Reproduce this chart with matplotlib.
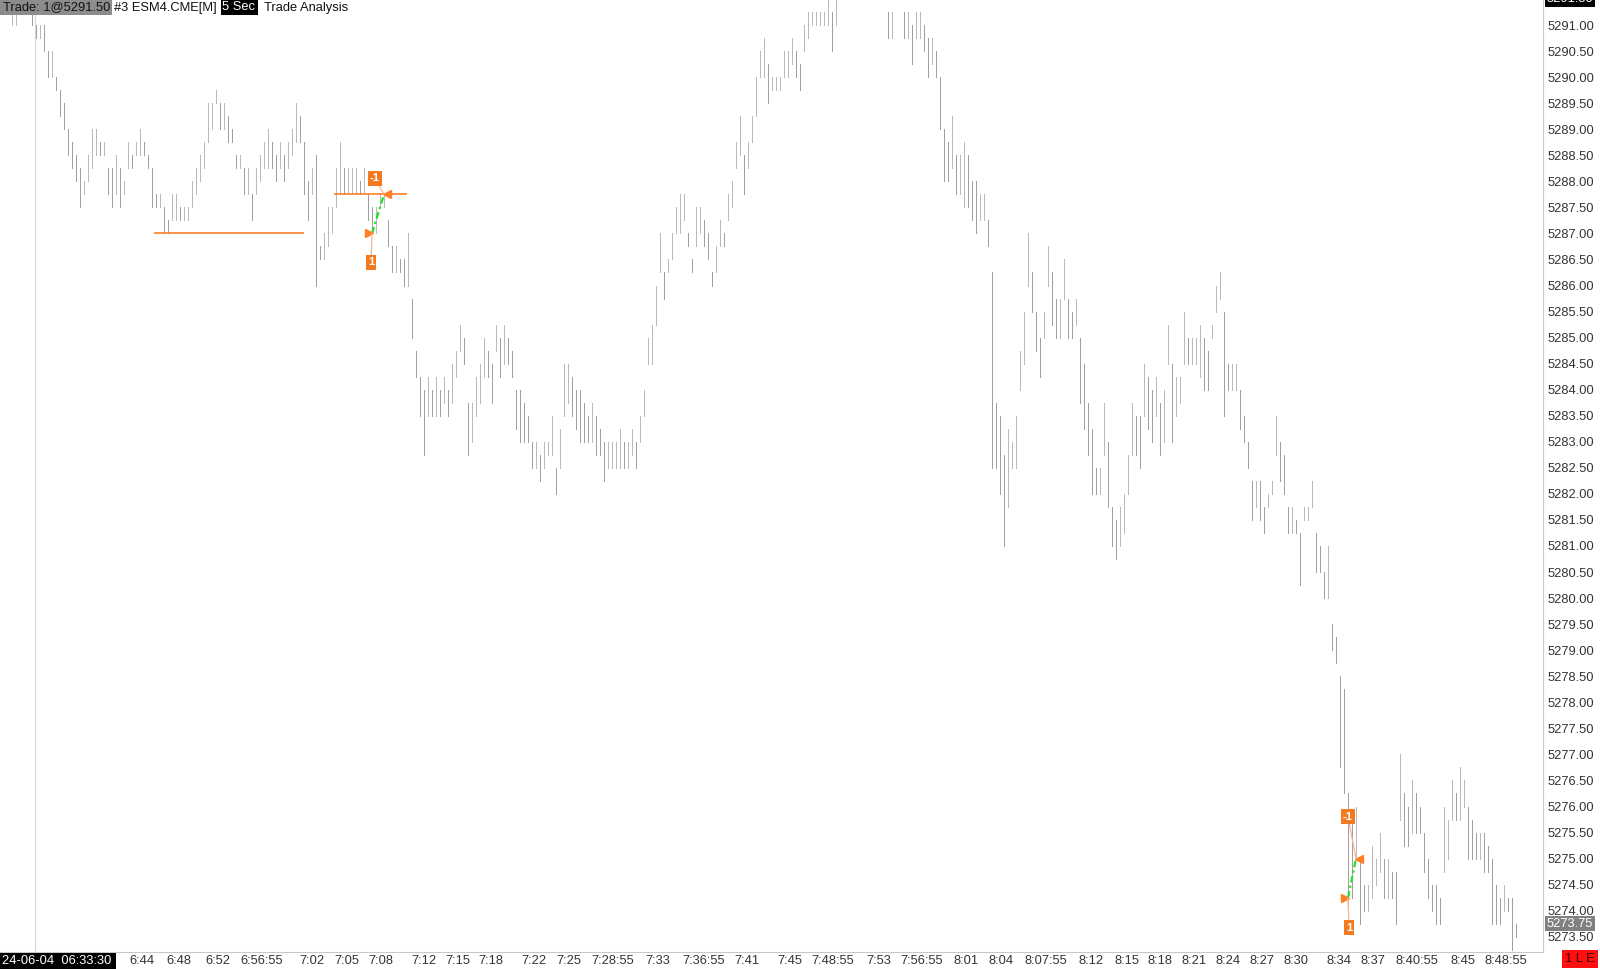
import numpy as np
import matplotlib
matplotlib.use("Agg")
import matplotlib.pyplot as plt
from matplotlib.patches import Rectangle
import matplotlib.transforms as mtransforms

plt.rcParams['font.family'] = ['Liberation Sans', 'DejaVu Sans']

# ESM4 5 sec bars, 2024-06-04 06:33:30 -> 08:49, one value per drawn bar
bar_hi = [
    5291.25, 5291.25, 5291.25, 5291.25, 5291.25, 5291.25, 5291.0, 5291.0, 5291.0, 5290.5,
    5290.5, 5290.0, 5289.75, 5289.5, 5289.0, 5288.75, 5288.5, 5288.25, 5288.0, 5288.5,
    5289.0, 5289.0, 5288.75, 5288.75, 5288.25, 5288.25, 5288.5, 5288.25, 5288.0, 5288.75,
    5288.5, 5288.75, 5289.0, 5288.75, 5288.5, 5288.25, 5287.75, 5287.75, 5287.5, 5287.25,
    5287.75, 5287.75, 5287.5, 5287.5, 5287.5, 5288.0, 5288.25, 5288.5, 5288.75, 5289.5,
    5289.5, 5289.75, 5289.5, 5289.5, 5289.25, 5289.0, 5288.5, 5288.5, 5288.25, 5288.25,
    5287.75, 5288.25, 5288.5, 5288.75, 5289.0, 5288.75, 5288.5, 5288.75, 5288.5, 5288.75,
    5289.0, 5289.5, 5289.25, 5288.75, 5288.0, 5288.25, 5288.5, 5286.75, 5287.0, 5287.5,
    5287.5, 5288.25, 5288.75, 5288.25, 5288.25, 5288.25, 5288.25, 5288.0, 5288.25, 5287.75,
    5287.5, 5287.5, 5287.75, 5287.75, 5287.25, 5286.75, 5286.75, 5286.5, 5286.5, 5287.0,
    5285.75, 5284.75, 5284.25, 5284.0, 5284.25, 5284.0, 5284.25, 5284.0, 5284.25, 5284.0,
    5284.5, 5284.75, 5285.25, 5285.0, 5283.75, 5283.75, 5284.25, 5284.5, 5285.0, 5284.75,
    5284.5, 5285.25, 5285.0, 5285.25, 5285.0, 5284.75, 5284.0, 5284.0, 5283.75, 5283.5,
    5283.0, 5283.0, 5282.75, 5283.0, 5283.0, 5283.5, 5282.5, 5283.25, 5284.5, 5284.5,
    5284.25, 5284.0, 5284.0, 5283.75, 5283.5, 5283.75, 5283.5, 5283.25, 5283.0, 5283.0,
    5283.0, 5283.0, 5283.25, 5283.0, 5283.0, 5283.25, 5283.0, 5283.5, 5284.0, 5285.0,
    5285.25, 5286.0, 5287.0, 5286.25, 5286.5, 5287.0, 5287.5, 5287.75, 5287.75, 5287.0,
    5286.5, 5287.5, 5287.5, 5287.25, 5287.0, 5286.25, 5286.75, 5287.25, 5287.0, 5287.75,
    5288.0, 5288.75, 5289.25, 5288.5, 5288.75, 5289.25, 5290.0, 5290.5, 5290.75, 5290.25,
    5290.0, 5290.0, 5290.0, 5290.5, 5290.5, 5290.75, 5290.5, 5290.25, 5291.0, 5291.25,
    5291.25, 5291.25, 5291.25, 5291.25, 5291.5, 5291.25, 5291.5, 5292.0, 5292.25, 5292.5,
    5292.25, 5292.5, 5292.75, 5292.5, 5292.25, 5292.5, 5292.25, 5292.0, 5292.0, 5291.25,
    5291.25, 5292.0, 5291.75, 5291.25, 5291.25, 5291.0, 5291.25, 5291.25, 5291.0, 5290.75,
    5290.75, 5290.5, 5290.0, 5289.0, 5288.75, 5289.25, 5288.5, 5288.5, 5288.75, 5288.5,
    5288.0, 5288.0, 5287.75, 5287.75, 5287.25, 5286.25, 5283.75, 5283.5, 5282.75, 5283.25,
    5283.0, 5283.5, 5284.75, 5285.5, 5287.0, 5286.25, 5285.5, 5285.0, 5285.5, 5286.75,
    5286.25, 5285.75, 5285.75, 5286.5, 5285.75, 5285.5, 5285.75, 5285.0, 5284.5, 5283.75,
    5283.25, 5282.5, 5282.5, 5283.75, 5283.0, 5281.75, 5281.5, 5281.75, 5282.0, 5282.75,
    5283.75, 5283.5, 5283.5, 5284.5, 5284.25, 5284.0, 5284.25, 5283.75, 5284.0, 5285.25,
    5284.5, 5284.25, 5284.25, 5285.5, 5285.0, 5285.0, 5285.0, 5285.25, 5285.0, 5284.75,
    5285.25, 5286.0, 5286.25, 5285.5, 5284.5, 5284.5, 5284.5, 5284.0, 5283.5, 5283.0,
    5282.25, 5282.25, 5282.25, 5281.75, 5282.0, 5282.25, 5283.5, 5283.0, 5282.75, 5281.75,
    5281.75, 5281.5, 5281.25, 5281.75, 5281.75, 5282.25, 5281.25, 5281.0, 5280.5, 5281.0,
    5279.5, 5279.25, 5278.5, 5278.25, 5276.25, 5275.75, 5276.0, 5275.0, 5274.5, 5274.5,
    5275.25, 5275.0, 5275.5, 5275.0, 5275.0, 5274.75, 5274.75, 5277.0, 5276.25, 5276.0,
    5276.5, 5276.25, 5276.0, 5275.5, 5275.0, 5274.5, 5274.5, 5274.25, 5276.0, 5275.75,
    5276.5, 5276.25, 5276.75, 5276.5, 5276.0, 5275.75, 5275.5, 5275.5, 5275.5, 5275.25,
    5275.0, 5274.5, 5274.25, 5274.5, 5274.25, 5274.25, 5273.75,
]
bar_lo = [
    5291.0, 5291.0, 5291.25, 5291.25, 5291.25, 5291.0, 5290.75, 5290.75, 5290.5, 5290.0,
    5290.0, 5289.75, 5289.25, 5289.0, 5288.5, 5288.25, 5288.0, 5287.5, 5287.75, 5288.0,
    5288.25, 5288.5, 5288.5, 5288.5, 5287.75, 5287.5, 5287.75, 5287.5, 5287.75, 5288.25,
    5288.25, 5288.5, 5288.5, 5288.5, 5288.25, 5287.5, 5287.5, 5287.5, 5287.0, 5287.0,
    5287.25, 5287.25, 5287.25, 5287.25, 5287.25, 5287.5, 5287.75, 5288.0, 5288.25, 5288.75,
    5289.0, 5289.5, 5289.0, 5289.0, 5288.75, 5288.75, 5288.25, 5288.25, 5287.75, 5287.75,
    5287.25, 5287.75, 5288.0, 5288.25, 5288.25, 5288.25, 5288.0, 5288.25, 5288.0, 5288.25,
    5288.5, 5288.75, 5288.75, 5287.75, 5287.25, 5287.75, 5286.0, 5286.5, 5286.5, 5286.75,
    5287.0, 5287.5, 5287.75, 5287.75, 5287.75, 5287.75, 5287.75, 5287.75, 5287.75, 5287.25,
    5287.0, 5287.0, 5287.5, 5287.5, 5286.75, 5286.25, 5286.25, 5286.25, 5286.0, 5286.0,
    5285.0, 5284.25, 5283.5, 5282.75, 5283.5, 5283.5, 5283.5, 5283.5, 5283.75, 5283.5,
    5283.75, 5284.25, 5284.75, 5284.5, 5282.75, 5283.0, 5283.5, 5283.75, 5284.25, 5284.25,
    5283.75, 5284.75, 5284.25, 5284.5, 5284.5, 5284.25, 5283.25, 5283.0, 5283.0, 5283.0,
    5282.5, 5282.5, 5282.25, 5282.5, 5282.75, 5282.75, 5282.0, 5282.5, 5283.5, 5283.75,
    5283.5, 5283.25, 5283.0, 5283.0, 5283.0, 5283.0, 5282.75, 5282.75, 5282.25, 5282.5,
    5282.5, 5282.5, 5282.5, 5282.5, 5282.5, 5282.75, 5282.5, 5283.0, 5283.5, 5284.5,
    5284.5, 5285.25, 5286.25, 5285.75, 5286.25, 5286.5, 5287.0, 5287.0, 5287.25, 5286.75,
    5286.25, 5286.75, 5287.0, 5286.75, 5286.5, 5286.0, 5286.25, 5286.75, 5286.75, 5287.25,
    5287.5, 5288.25, 5288.5, 5287.75, 5288.25, 5288.75, 5289.25, 5290.0, 5290.0, 5289.5,
    5289.75, 5289.75, 5289.75, 5290.0, 5290.0, 5290.25, 5290.0, 5289.75, 5290.5, 5290.75,
    5291.0, 5291.0, 5291.0, 5291.0, 5291.0, 5290.5, 5291.0, 5291.75, 5291.75, 5292.0,
    5291.75, 5292.0, 5292.25, 5292.0, 5291.75, 5292.0, 5291.75, 5291.75, 5291.5, 5290.75,
    5290.75, 5291.5, 5291.5, 5290.75, 5290.75, 5290.25, 5290.75, 5290.75, 5290.5, 5290.0,
    5290.25, 5290.0, 5289.0, 5288.0, 5288.0, 5288.25, 5287.75, 5287.75, 5287.5, 5287.5,
    5287.25, 5287.0, 5287.25, 5287.25, 5286.75, 5282.5, 5282.5, 5282.0, 5281.0, 5281.75,
    5282.5, 5282.5, 5284.0, 5284.5, 5286.0, 5285.5, 5284.75, 5284.25, 5285.0, 5286.0,
    5285.25, 5285.0, 5285.0, 5285.75, 5285.0, 5285.0, 5285.25, 5283.75, 5283.25, 5282.75,
    5282.0, 5282.0, 5282.0, 5282.75, 5281.75, 5281.0, 5280.75, 5281.0, 5281.25, 5282.0,
    5282.75, 5282.75, 5282.5, 5283.5, 5283.25, 5283.0, 5283.5, 5282.75, 5283.0, 5284.5,
    5283.0, 5283.5, 5283.75, 5284.5, 5284.5, 5284.5, 5284.5, 5284.25, 5284.0, 5284.0,
    5285.0, 5285.5, 5285.75, 5283.5, 5284.0, 5284.0, 5284.0, 5283.25, 5283.0, 5282.5,
    5281.5, 5281.75, 5281.5, 5281.25, 5281.75, 5282.0, 5282.75, 5282.25, 5282.0, 5281.25,
    5281.25, 5281.25, 5280.25, 5281.5, 5281.5, 5281.75, 5280.5, 5280.5, 5280.0, 5280.0,
    5279.0, 5278.75, 5276.75, 5276.25, 5274.0, 5274.25, 5275.0, 5273.75, 5274.0, 5274.0,
    5274.25, 5274.5, 5274.75, 5274.25, 5274.25, 5274.25, 5273.75, 5275.75, 5275.25, 5275.25,
    5275.5, 5275.5, 5275.5, 5274.75, 5274.25, 5274.0, 5273.75, 5273.75, 5274.75, 5275.0,
    5275.75, 5275.75, 5275.75, 5276.0, 5275.0, 5275.0, 5275.0, 5275.0, 5274.75, 5274.75,
    5273.75, 5273.75, 5273.75, 5274.0, 5274.0, 5273.25, 5273.5,
]

# time scale labels and the bar each one belongs to
time_labels = ['6:44', '6:48', '6:52', '6:56:55', '7:02', '7:05', '7:08', '7:12', '7:15',
               '7:18', '7:22', '7:25', '7:28:55', '7:33', '7:36:55', '7:41', '7:45',
               '7:48:55', '7:53', '7:56:55', '8:01', '8:04', '8:07:55', '8:12', '8:15',
               '8:18', '8:21', '8:24', '8:27', '8:30', '8:34', '8:37', '8:40:55', '8:45',
               '8:48:55']
time_bars = [32.5, 41.75, 51.5, 62.5, 75, 83.75, 92.25, 103, 111.5,
             119.75, 130.5, 139.25, 150.25, 161.5, 173, 183.75, 194.5,
             205.25, 216.75, 227.5, 238.5, 247.25, 258.5, 269.75, 278.75,
             287, 295.5, 304, 312.5, 321, 331.75, 340.25, 351.25, 362.75,
             373.5]

# trades (long 1 contract, then sell 1)
entry_bar = [90, 334]
entry_px = [5287.0, 5274.25]
exit_bar = [93, 336]
exit_px = [5287.75, 5275.0]

# horizontal orange levels: price, first bar, last bar
level_px = [5287.0, 5287.75]
level_from = [35.5, 80.5]
level_to = [73.0, 98.75]

session_bar = 5.75
last_px = 5273.75

W, H = 1600, 969
ORANGE = '#f47a20'
TXT = '#333333'
FS = 9.3

fig = plt.figure(figsize=(W / 100, H / 100), dpi=100)
fig.patch.set_facecolor('white')
ax = fig.add_axes([0, 17 / H, 1543 / W, 952 / H])
ax.set_facecolor('white')

hi = np.array(bar_hi)
lo = np.array(bar_lo)
k = np.arange(len(hi))
mid = (hi + lo) / 2
up = np.r_[True, mid[1:] >= mid[:-1]]
cols = np.where(up, '#bababa', '#a0a0a0')

ax.axvline(session_bar, color='#d6d6d6', lw=0.8, zorder=1)
ax.vlines(k, lo, hi, colors=cols, lw=0.72, antialiased=False, zorder=2)

ax.hlines(level_px, level_from, level_to, colors='#ff7f27', lw=1.2, zorder=3)

left_tr = mtransforms.offset_copy(ax.transData, fig=fig, x=-3, y=0, units='dots')
right_tr = mtransforms.offset_copy(ax.transData, fig=fig, x=3, y=0, units='dots')
ax.plot(entry_bar, entry_px, ls='none', marker='>', ms=5.5, color='#ff7f27',
        mec='#ff7f27', transform=left_tr, zorder=5)
ax.plot(exit_bar, exit_px, ls='none', marker='<', ms=5.5, color='#ff7f27',
        mec='#ff7f27', transform=right_tr, zorder=5)

lbl_up = [(-9, 16), (-8, 42)]
lbl_dn = [(-1, -29), (1, -30)]
for i in range(len(entry_bar)):
    ax.plot([entry_bar[i], exit_bar[i]], [entry_px[i], exit_px[i]], color='#22e022',
            lw=1.6, dashes=(3, 1.5, 1, 1.5), zorder=4)
    ax.annotate('-1', xy=(exit_bar[i], exit_px[i]), xytext=lbl_up[i],
                textcoords='offset pixels', ha='center', va='center', color='white',
                fontsize=8, fontweight='bold', zorder=6,
                bbox=dict(boxstyle='square,pad=0.2', fc=ORANGE, ec='none'),
                arrowprops=dict(arrowstyle='-', color='#f9b48a', lw=0.9,
                                shrinkA=0, shrinkB=0))
    ax.annotate('1', xy=(entry_bar[i], entry_px[i]), xytext=lbl_dn[i],
                textcoords='offset pixels', ha='center', va='center', color='white',
                fontsize=8, fontweight='bold', zorder=6,
                bbox=dict(boxstyle='square,pad=0.2', fc=ORANGE, ec='none'),
                arrowprops=dict(arrowstyle='-', color='#f9b48a', lw=0.9,
                                shrinkA=0, shrinkB=0))

ax.set_xlim(-3, 382.75)
ax.set_ylim(5291 - 927 / 52.1, 5291 + 25 / 52.1)

price_ticks = np.arange(5273.5, 5291.01, 0.5)
ax.yaxis.tick_right()
ax.set_yticks(price_ticks)
ax.set_yticklabels(['%.2f' % p for p in price_ticks])
ax.set_xticks(time_bars)
ax.set_xticklabels(time_labels)
ax.tick_params(axis='y', length=0, pad=3, labelsize=FS, labelcolor=TXT)
ax.tick_params(axis='x', length=0, pad=2.5, labelsize=FS, labelcolor=TXT)
for s in ['left', 'top']:
    ax.spines[s].set_visible(False)
for s in ['right', 'bottom']:
    ax.spines[s].set_color('#c8c8c8')
    ax.spines[s].set_linewidth(0.8)

# current / last price boxes on the price scale (top one is cut by the edge, as in the source)
blend = mtransforms.blended_transform_factory(ax.transAxes, ax.transData)
lab_tr = mtransforms.offset_copy(blend, fig=fig, x=4, y=0, units='dots')
ax.text(1.0, 5291.5, '5291.50', transform=lab_tr, ha='left', va='center', color='white',
        fontsize=FS, clip_on=False, bbox=dict(fc='black', ec='none', pad=1.2))
ax.text(1.0, last_px, '%.2f' % last_px, transform=lab_tr, ha='left', va='center',
        color='white', fontsize=FS, clip_on=False,
        bbox=dict(fc='#808080', ec='none', pad=1.2))


def px_box(x0, y0, x1, y1, color):
    fig.add_artist(Rectangle((x0 / W, 1 - y1 / H), (x1 - x0) / W, (y1 - y0) / H,
                             transform=fig.transFigure, fc=color, ec='none', zorder=5))


def px_text(x, y, s, **kw):
    fig.text(x / W, 1 - y / H, s, va='center', fontsize=FS, zorder=6, **kw)


# header row
px_box(0, 0, 112, 15, '#8c8c8c')
px_text(3, 7.5, 'Trade: 1@5291.50', color='#111111')
px_text(114, 7.5, '#3 ESM4.CME[M]', color='#111111')
px_box(221, 0, 258, 15, 'black')
px_text(222, 7.5, '5 Sec', color='white')
px_text(264, 7.5, 'Trade Analysis', color='#111111')

# bottom left date box and bottom right status box
px_box(0, 953, 116, 969, 'black')
px_text(2, 961, '24-06-04  06:33:30', color='white')
px_box(1562, 950, 1598, 968, '#ff1010')
px_text(1580, 959, '1 L E', color='#3a0000', ha='center')

fig.savefig('out.png', dpi=100)
